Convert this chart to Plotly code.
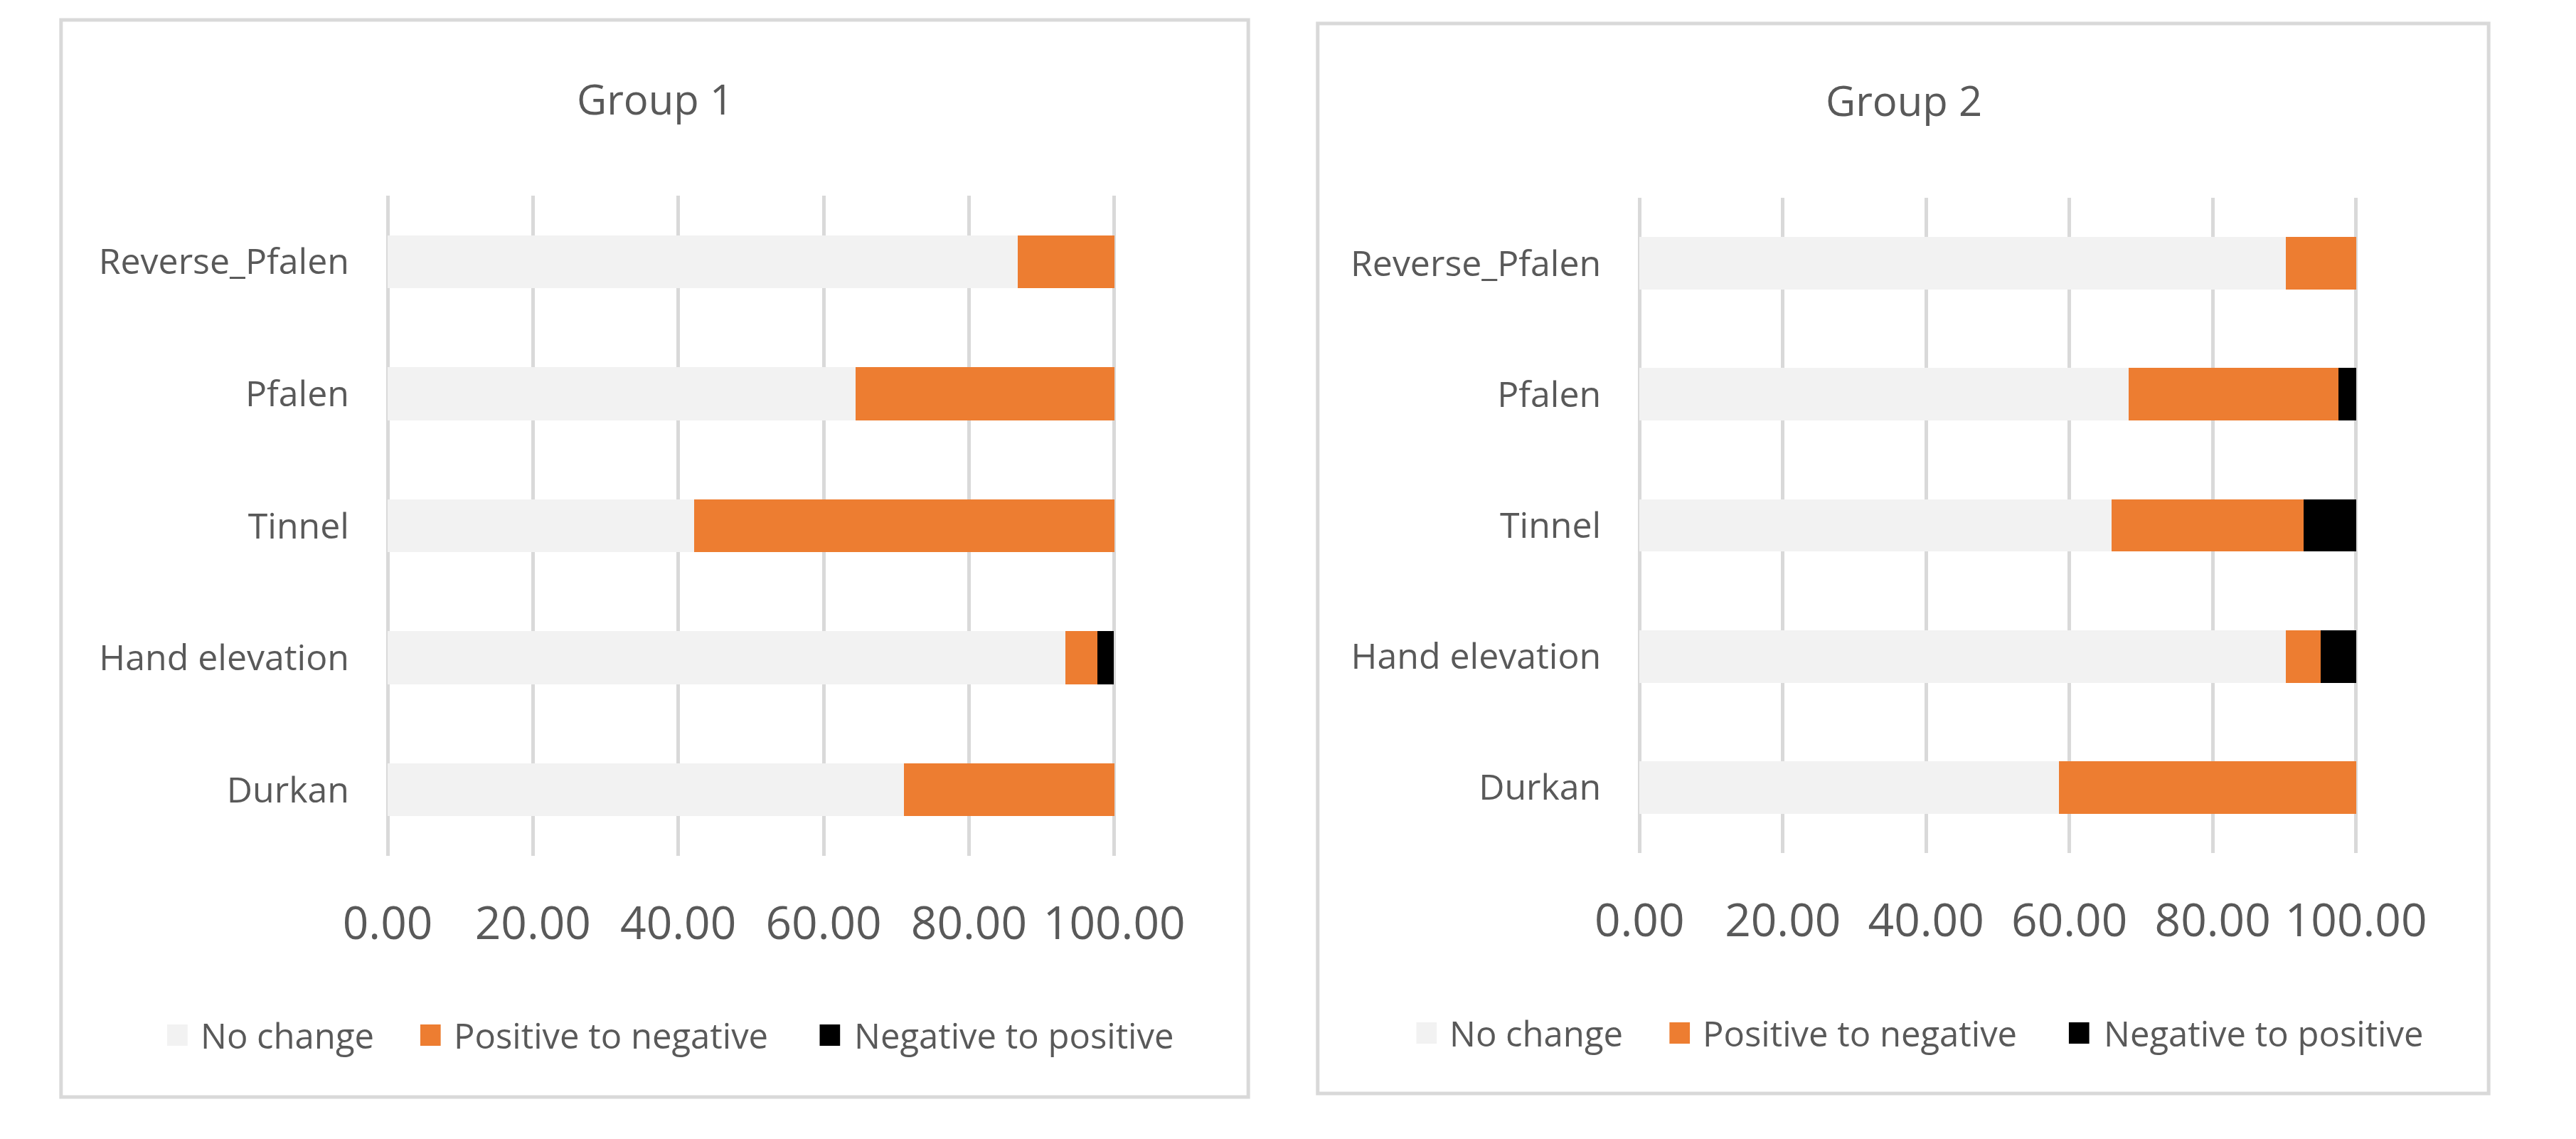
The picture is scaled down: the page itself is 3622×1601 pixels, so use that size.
import plotly.graph_objects as go

# ---------------- data ----------------
categories = ["Durkan", "Hand elevation", "Tinnel", "Pfalen", "Reverse_Pfalen"]
series_names = ["No change", "Positive to negative", "Negative to positive"]

g1_no_change = [71.1, 93.3, 42.2, 64.4, 86.7]
g1_pos_to_neg = [28.9, 4.4, 57.8, 35.6, 13.3]
g1_neg_to_pos = [0.0, 2.2, 0.0, 0.0, 0.0]

g2_no_change = [58.5, 90.2, 65.9, 68.3, 90.2]
g2_pos_to_neg = [41.5, 4.9, 26.8, 29.3, 9.8]
g2_neg_to_pos = [0.0, 4.9, 7.3, 2.4, 0.0]

group_titles = ["Group 1", "Group 2"]
tick_values = [0, 20, 40, 60, 80, 100]

# ---------------- style ----------------
colors = ["#F2F2F2", "#ED7D31", "#000000"]
W, H = 3622, 1601
FONT = "Open Sans"
TXT = "#595959"
GRID = "#D9D9D9"
PAD = 0.3  # small range padding so the 0 and 100 gridlines are drawn


def px(x):
    return x / W


def py(y):
    return 1 - y / H


fig = go.Figure()

groups = [
    (g1_no_change, g1_pos_to_neg, g1_neg_to_pos),
    (g2_no_change, g2_pos_to_neg, g2_neg_to_pos),
]
for gi, vals in enumerate(groups):
    xa = "x" if gi == 0 else "x2"
    ya = "y" if gi == 0 else "y2"
    for si, v in enumerate(vals):
        fig.add_trace(go.Bar(
            y=categories, x=v, orientation="h", name=series_names[si],
            marker=dict(color=colors[si], line=dict(width=0)),
            xaxis=xa, yaxis=ya, showlegend=False,
        ))

# panel geometry (pixels)
panels = [
    dict(box=(27, 28, 1772, 1542), plot_x=(507, 1575), plot_y=(275, 1203),
         title=(900, 138), legend_y=1455, legend_dx=0),
    dict(box=(1874, 33, 3595, 1537), plot_x=(2347, 3400), plot_y=(278, 1199),
         title=(2736, 141), legend_y=1452, legend_dx=1836),
]


def x_domain(p):
    a, b = p["plot_x"]
    ppu = (b - a) / 100.0
    return [px(a - PAD * ppu), px(b + PAD * ppu)]


xaxis_common = dict(
    range=[-PAD, 100 + PAD], tickmode="array", tickvals=tick_values,
    tickformat=".2f", showgrid=True, gridcolor=GRID, gridwidth=5,
    zeroline=False, showline=False, ticks="", tickangle=0,
    tickfont=dict(family=FONT, size=64, color=TXT),
    ticklabelstandoff=52, fixedrange=True,
)
yaxis_common = dict(
    type="category", showgrid=False, zeroline=False, showline=False,
    ticks="", tickfont=dict(family=FONT, size=50, color=TXT),
    ticklabelstandoff=50, fixedrange=True,
)

p0, p1 = panels
fig.update_layout(
    xaxis=dict(domain=x_domain(p0), anchor="y", **xaxis_common),
    yaxis=dict(domain=[py(p0["plot_y"][1]), py(p0["plot_y"][0])], anchor="x", **yaxis_common),
    xaxis2=dict(domain=x_domain(p1), anchor="y2", **xaxis_common),
    yaxis2=dict(domain=[py(p1["plot_y"][1]), py(p1["plot_y"][0])], anchor="x2", **yaxis_common),
)

shapes = []
annotations = []
legend_swatch_x = [183, 555, 1142]
legend_text_x = [230, 602, 1191]
SW = 30
for gi, p in enumerate(panels):
    x0, y0, x1, y1 = p["box"]
    shapes.append(dict(type="rect", xref="paper", yref="paper",
                       x0=px(x0), x1=px(x1), y0=py(y0), y1=py(y1),
                       line=dict(color=GRID, width=5), fillcolor="rgba(0,0,0,0)",
                       layer="below"))
    tx, ty = p["title"]
    annotations.append(dict(text=group_titles[gi], x=px(tx), y=py(ty),
                            xref="paper", yref="paper", xanchor="center",
                            yanchor="middle", showarrow=False,
                            font=dict(family=FONT, size=58, color=TXT)))
    ly = p["legend_y"]
    for si in range(3):
        sx = legend_swatch_x[si] + p["legend_dx"]
        shapes.append(dict(type="rect", xref="paper", yref="paper",
                           x0=px(sx), x1=px(sx + SW), y0=py(ly - SW / 2), y1=py(ly + SW / 2),
                           line=dict(width=0), fillcolor=colors[si]))
        annotations.append(dict(text=series_names[si],
                                x=px(legend_text_x[si] + p["legend_dx"]), y=py(ly),
                                xref="paper", yref="paper", xanchor="left",
                                yanchor="middle", showarrow=False,
                                font=dict(family=FONT, size=49, color=TXT)))

fig.update_layout(
    width=W, height=H, margin=dict(l=0, r=0, t=0, b=0),
    barmode="stack", bargap=0.6,
    paper_bgcolor="white", plot_bgcolor="white",
    shapes=shapes, annotations=annotations, showlegend=False,
    font=dict(family=FONT, color=TXT),
)

fig.write_html("out.html", config={"displayModeBar": False},
               post_script="document.body.style.margin='0';document.body.style.overflow='hidden';")
